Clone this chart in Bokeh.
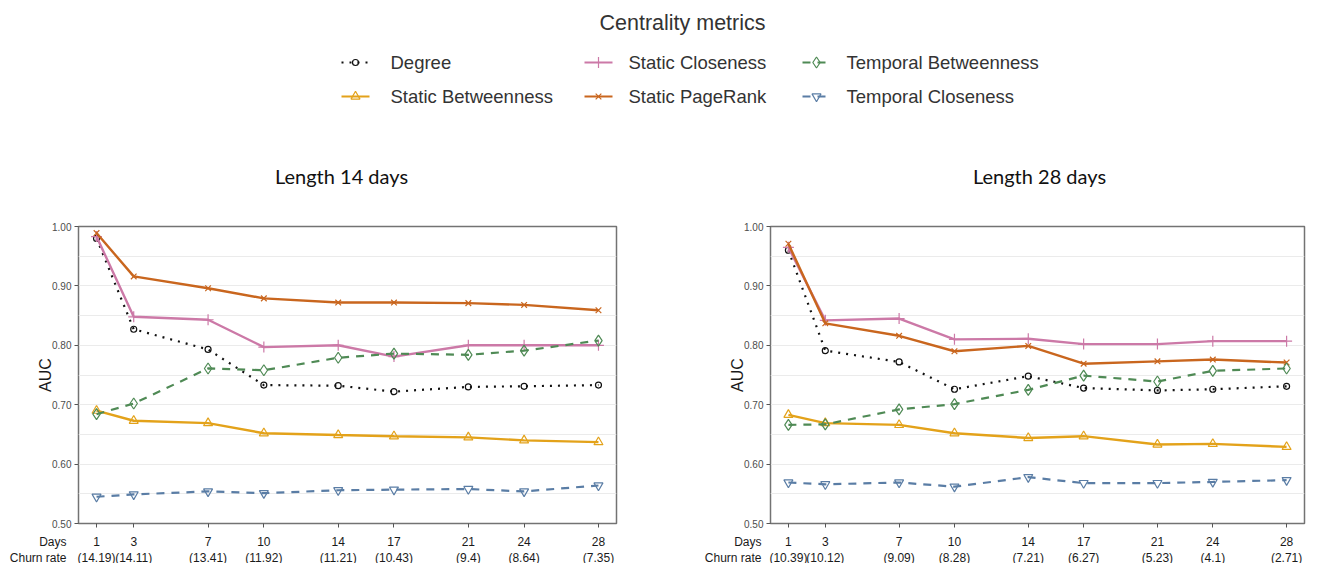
from bokeh.plotting import figure
from bokeh.models import Range1d, FixedTicker, CustomLabelingPolicy
from bokeh.layouts import column, row
from bokeh.core.properties import value
from bokeh.embed import file_html
from bokeh.resources import INLINE

# ---------------- data ----------------
days = [1, 3, 7, 10, 14, 17, 21, 24, 28]
churn_14 = ["14.19", "14.11", "13.41", "11.92", "11.21", "10.43", "9.4", "8.64", "7.35"]
churn_28 = ["10.39", "10.12", "9.09", "8.28", "7.21", "6.27", "5.23", "4.1", "2.71"]

metrics = ["Degree", "Static Betweenness", "Static Closeness",
           "Static PageRank", "Temporal Betweenness", "Temporal Closeness"]

degree_14 = [0.980, 0.827, 0.793, 0.733, 0.732, 0.722, 0.730, 0.731, 0.733]
sbet_14 = [0.690, 0.673, 0.669, 0.652, 0.649, 0.647, 0.645, 0.640, 0.637]
sclo_14 = [0.983, 0.848, 0.843, 0.797, 0.800, 0.781, 0.800, 0.800, 0.800]
spr_14 = [0.989, 0.916, 0.896, 0.879, 0.872, 0.872, 0.871, 0.868, 0.859]
tbet_14 = [0.684, 0.702, 0.761, 0.758, 0.779, 0.786, 0.784, 0.791, 0.808]
tclo_14 = [0.545, 0.549, 0.554, 0.551, 0.556, 0.557, 0.558, 0.554, 0.564]

degree_28 = [0.960, 0.791, 0.772, 0.726, 0.748, 0.728, 0.724, 0.726, 0.731]
sbet_28 = [0.683, 0.669, 0.666, 0.652, 0.644, 0.647, 0.633, 0.634, 0.629]
sclo_28 = [0.965, 0.842, 0.845, 0.810, 0.811, 0.802, 0.802, 0.807, 0.807]
spr_28 = [0.971, 0.837, 0.816, 0.790, 0.799, 0.769, 0.773, 0.776, 0.771]
tbet_28 = [0.666, 0.667, 0.692, 0.701, 0.725, 0.749, 0.739, 0.757, 0.761]
tclo_28 = [0.569, 0.566, 0.569, 0.562, 0.578, 0.568, 0.568, 0.570, 0.573]

y_ticks = [0.5, 0.6, 0.7, 0.8, 0.9, 1.0]
y_tick_labels = ["0.50", "0.60", "0.70", "0.80", "0.90", "1.00"]
grid_ticks = [0.55, 0.60, 0.65, 0.70, 0.75, 0.80, 0.85, 0.90, 0.95]

legend_title = "Centrality metrics"
panel_titles = ["Length 14 days", "Length 28 days"]
row_labels = ["Days", "Churn rate"]

# ---------------- styles ----------------
colors = {"Degree": "#111111", "Static Betweenness": "#E3A21A",
          "Static Closeness": "#CC79A7", "Static PageRank": "#C9661E",
          "Temporal Betweenness": "#4F8A55", "Temporal Closeness": "#5A7DA5"}
dashes = {"Degree": "2 6", "Static Betweenness": "solid", "Static Closeness": "solid",
          "Static PageRank": "solid", "Temporal Betweenness": "8 7", "Temporal Closeness": "8 7"}
widths = {"Degree": 2.2, "Static Betweenness": 2.4, "Static Closeness": 2.4,
          "Static PageRank": 2.4, "Temporal Betweenness": 2.2, "Temporal Closeness": 2.2}
markers = {"Degree": "circle", "Static Betweenness": "triangle", "Static Closeness": "cross",
           "Static PageRank": "x", "Temporal Betweenness": "diamond",
           "Temporal Closeness": "inverted_triangle"}
msizes = {"Degree": 6, "Static Betweenness": 9, "Static Closeness": 11,
          "Static PageRank": 8, "Temporal Betweenness": 11, "Temporal Closeness": 9}

FONT = "Liberation Sans"
W_ALL, H_ALL = 1319, 563

# ---------------- header (legend + panel titles) ----------------
HH = 216
header = figure(width=W_ALL, height=HH, x_range=Range1d(0, W_ALL), y_range=Range1d(HH, 0),
                x_axis_type=None, y_axis_type=None, output_backend="svg",
                toolbar_location=None, tools="", min_border=0, outline_line_color=None)
header.grid.visible = False

header.text(x=[682], y=[22], text=[legend_title], text_font=value(FONT),
            text_font_size="21.5px", text_color="#333333", text_align="center",
            text_baseline="middle")

key_cx = [355, 598, 816]
lab_x = [390, 628, 846]
row_y = [62, 96]
for i, name in enumerate(metrics):
    c, r = i // 2, i % 2
    cx, cy = key_cx[c], row_y[r]
    header.line([cx - 14, cx + 14], [cy, cy], line_color=colors[name], line_width=2,
                line_dash=dashes[name])
    header.scatter([cx], [cy], marker=markers[name], size=msizes[name],
                   line_color=colors[name], fill_color=None, line_width=1.2)
    header.text(x=[lab_x[c]], y=[cy], text=[name], text_font=value(FONT),
                text_font_size="18.5px", text_color="#333333", text_align="left",
                text_baseline="middle")

header.text(x=[341, 1039], y=[175, 175], text=panel_titles, text_font=value("Lato"),
            text_font_size="20px", text_color="#111111", text_align="center",
            text_baseline="middle")

# ---------------- panels ----------------
FH = 297
X0, X1 = 0.03, 28.97
TOP, BOT = 10, 6
BH = H_ALL - HH - TOP - FH - BOT   # height of the tick-label strip

# frame geometry (left border, frame width, right border) of the two panels
geo = [(78, 538, 76), (78, 534, 15)]

no_labels = CustomLabelingPolicy(code="for (const i of [...indices]) indices.unset(i)")


def make_panel(series, lb, fw, rb):
    p = figure(frame_width=fw, frame_height=FH, min_border_left=lb, min_border_right=rb,
               min_border_top=TOP, min_border_bottom=BOT,
               x_range=Range1d(X0, X1), y_range=Range1d(0.5, 1.0),
               output_backend="svg", toolbar_location=None, tools="")
    p.outline_line_color = "#737373"
    p.outline_line_width = 1.5
    p.xgrid.visible = False
    p.ygrid.ticker = FixedTicker(ticks=grid_ticks)
    p.ygrid.grid_line_color = "#EBEBEB"
    p.ygrid.grid_line_width = 1

    for ax in (p.xaxis[0], p.yaxis[0]):
        ax.axis_line_color = None
        ax.major_tick_line_color = "#555555"
        ax.major_tick_out = 4
        ax.major_tick_in = 0
        ax.minor_tick_line_color = None
        ax.major_label_text_font = FONT

    # x axis: ticks only, the two-line labels are drawn in the strip below
    xa = p.xaxis[0]
    xa.ticker = FixedTicker(ticks=days)
    xa.major_label_text_font_size = "1px"
    xa.major_label_standoff = 0
    xa.major_label_policy = no_labels

    ya = p.yaxis[0]
    ya.ticker = FixedTicker(ticks=y_ticks)
    ya.major_label_overrides = {t: l for t, l in zip(y_ticks, y_tick_labels)}
    ya.major_label_text_font_size = "10px"
    ya.major_label_text_color = "#4D4D4D"
    ya.major_label_standoff = 3
    ya.axis_label = "AUC"
    ya.axis_label_text_font = FONT
    ya.axis_label_text_font_size = "16px"
    ya.axis_label_text_font_style = "normal"
    ya.axis_label_text_color = "#1a1a1a"
    ya.axis_label_standoff = -5

    for name in metrics:
        vals = series[name]
        p.line(days, vals, line_color=colors[name], line_width=widths[name],
               line_dash=dashes[name])
        p.scatter(days, vals, marker=markers[name], size=msizes[name],
                  line_color=colors[name], fill_color=None, line_width=1.2)
    return p


left = make_panel({"Degree": degree_14, "Static Betweenness": sbet_14,
                   "Static Closeness": sclo_14, "Static PageRank": spr_14,
                   "Temporal Betweenness": tbet_14, "Temporal Closeness": tclo_14}, *geo[0])
right = make_panel({"Degree": degree_28, "Static Betweenness": sbet_28,
                    "Static Closeness": sclo_28, "Static PageRank": spr_28,
                    "Temporal Betweenness": tbet_28, "Temporal Closeness": tclo_28}, *geo[1])

# ---------------- strip under both panels: two-line tick labels ----------------
# each panel gets its own x range in the strip, scaled so that it lines up with the panel frame
frame_left = [geo[0][0], geo[0][0] + geo[0][1] + geo[0][2] + geo[1][0]]
ranges = []
for (lb, fw, rb), fl in zip(geo, frame_left):
    k = (X1 - X0) / fw
    ranges.append(Range1d(X0 - fl * k, X0 + (W_ALL - fl) * k))

strip = figure(width=W_ALL, height=BH, x_range=ranges[0], y_range=Range1d(BH, 0),
               x_axis_type=None, y_axis_type=None, output_backend="svg",
               toolbar_location=None, tools="", min_border=0, outline_line_color=None)
strip.extra_x_ranges = {"right": ranges[1]}
strip.grid.visible = False

gaps = [12, 9]
for rname, churn, (lb, fw, rb), gap in zip(["default", "right"], [churn_14, churn_28], geo, gaps):
    k = (X1 - X0) / fw
    strip.text(x=days, y=[10] * len(days), text=[str(d) for d in days], text_font=value(FONT),
               text_font_size="12px", text_color="#1a1a1a", text_align="center",
               text_baseline="middle", x_range_name=rname)
    strip.text(x=days, y=[26] * len(days), text=[f"({c})" for c in churn],
               text_font=value(FONT), text_font_size="12px", text_color="#1a1a1a",
               text_align="center", text_baseline="middle", x_range_name=rname)
    strip.text(x=[X0 - gap * k] * 2, y=[10, 26], text=row_labels, text_font=value(FONT),
               text_font_size="12px", text_color="#1a1a1a", text_align="right",
               text_baseline="middle", x_range_name=rname)

layout = column(header, row(left, right), strip)
open("out.html", "w").write(file_html(layout, INLINE))
